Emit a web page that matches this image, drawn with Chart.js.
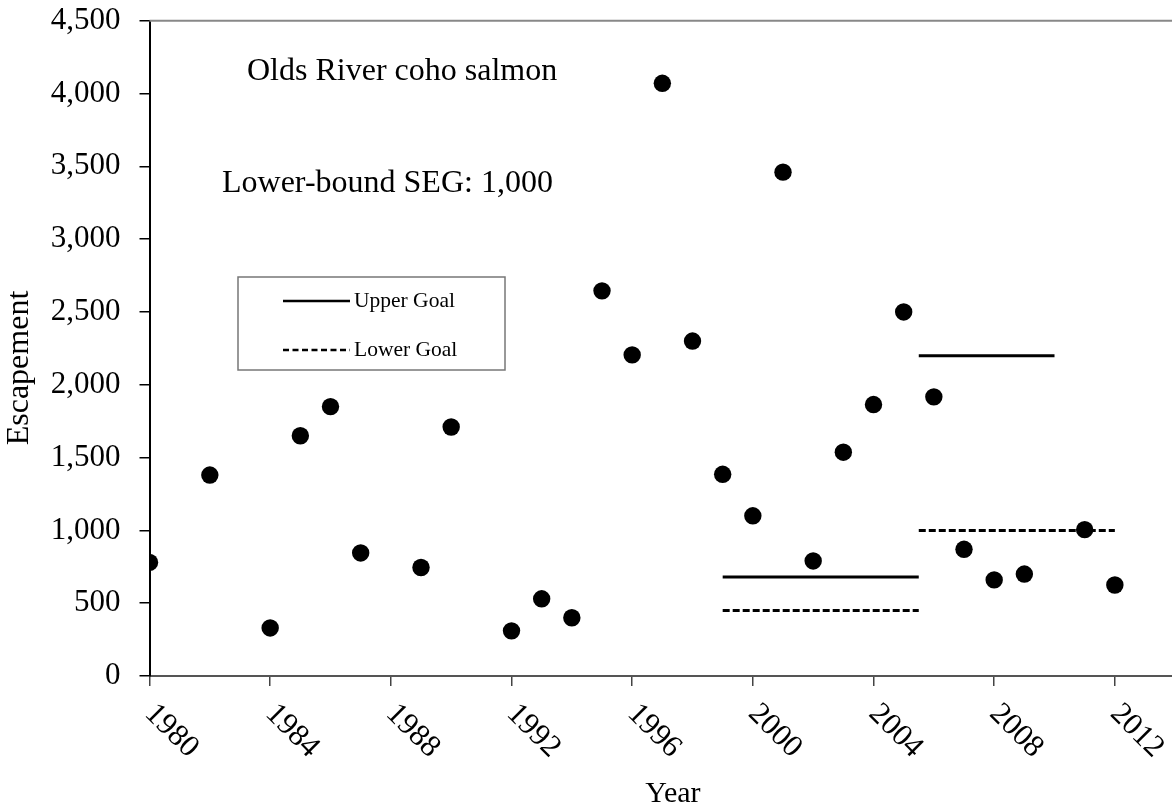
<!DOCTYPE html>
<html>
<head>
<meta charset="utf-8">
<script src="https://cdn.jsdelivr.net/npm/chart.js@4.4.1/dist/chart.umd.min.js"></script>
<style>
    html, body { margin: 0; padding: 0; background: #fff; overflow: hidden; }
    #wrap { width: 1205px; height: 809px; }
</style>
</head>
<body>
<div id="wrap"><canvas id="escChart" width="1205" height="809"></canvas></div>
<script>
// Olds River coho salmon escapement, by year
const years = [1980, 1982, 1984, 1985, 1986, 1987, 1989, 1990, 1992, 1993, 1994, 1995, 1996, 1997,
               1998, 1999, 2000, 2001, 2002, 2003, 2004, 2005, 2006, 2007, 2008, 2009, 2011, 2012];
const escapement = [780, 1380, 330, 1650, 1850, 845, 745, 1710, 310, 530, 400, 2645, 2205, 4070,
                    2300, 1385, 1100, 3460, 790, 1537, 1864, 2500, 1917, 870, 660, 700, 1005, 625];

// goal segments (null breaks the line between periods)
const upperGoalX = [1999, 2005.5, 2005.5, 2005.5, 2010];
const upperGoalY = [680, 680, null, 2200, 2200];
const lowerGoalX = [1999, 2005.5, 2005.5, 2005.5, 2012];
const lowerGoalY = [450, 450, null, 1000, 1000];

const xTicks = [1980, 1984, 1988, 1992, 1996, 2000, 2004, 2008, 2012];
const yTicks = [0, 500, 1000, 1500, 2000, 2500, 3000, 3500, 4000, 4500];

const FONT = '"Liberation Serif", "Times New Roman", serif';

const toPoints = (xs, ys) => xs.map((x, i) => ({ x: x, y: ys[i] }));

// draws rotated year labels, y title, top frame line, legend box and the two notes
const decorPlugin = {
    id: 'decor',
    afterDraw(chart) {
        const { ctx, chartArea, scales: { x } } = chart;
        ctx.save();

        // top frame line
        ctx.strokeStyle = '#888';
        ctx.lineWidth = 2;
        ctx.beginPath();
        ctx.moveTo(chartArea.left, chartArea.top);
        ctx.lineTo(chartArea.right, chartArea.top);
        ctx.stroke();

        // year labels, slanted down to the right
        ctx.fillStyle = '#000';
        ctx.font = `31px ${FONT}`;
        ctx.textAlign = 'left';
        ctx.textBaseline = 'top';
        x.ticks.forEach(t => {
            const px = x.getPixelForValue(t.value);
            ctx.save();
            ctx.translate(px + 11, chartArea.bottom + 22);
            ctx.rotate(Math.PI / 4);
            ctx.fillText(String(t.value), 0, 0);
            ctx.restore();
        });

        // y axis title
        ctx.save();
        ctx.translate(20, 368);
        ctx.rotate(-Math.PI / 2);
        ctx.textAlign = 'center';
        ctx.textBaseline = 'middle';
        ctx.font = `32px ${FONT}`;
        ctx.fillText('Escapement', 0, 0);
        ctx.restore();

        // notes
        ctx.textBaseline = 'alphabetic';
        ctx.font = `32px ${FONT}`;
        ctx.fillText('Olds River coho salmon', 247, 80);
        ctx.fillText('Lower-bound SEG: 1,000', 222, 192);

        // legend
        ctx.strokeStyle = '#777';
        ctx.lineWidth = 1.5;
        ctx.strokeRect(238, 277, 267, 93);
        ctx.strokeStyle = '#000';
        ctx.lineWidth = 2.5;
        ctx.beginPath();
        ctx.moveTo(283, 301);
        ctx.lineTo(350, 301);
        ctx.stroke();
        ctx.setLineDash([6, 3.5]);
        ctx.beginPath();
        ctx.moveTo(283, 350);
        ctx.lineTo(350, 350);
        ctx.stroke();
        ctx.setLineDash([]);
        ctx.font = `21.5px ${FONT}`;
        ctx.fillText('Upper Goal', 354, 307);
        ctx.fillText('Lower Goal', 354, 356);

        ctx.restore();
    }
};

new Chart(document.getElementById('escChart').getContext('2d'), {
    type: 'scatter',
    data: {
        datasets: [
            {
                label: 'Escapement',
                data: toPoints(years, escapement),
                backgroundColor: '#000',
                borderWidth: 0,
                pointRadius: 8.7,
                pointHoverRadius: 8.7
            },
            {
                label: 'Upper Goal',
                type: 'line',
                data: toPoints(upperGoalX, upperGoalY),
                borderColor: '#000',
                borderWidth: 3,
                pointRadius: 0,
                spanGaps: false,
                fill: false
            },
            {
                label: 'Lower Goal',
                type: 'line',
                data: toPoints(lowerGoalX, lowerGoalY),
                borderColor: '#000',
                borderWidth: 3,
                borderDash: [7, 3],
                pointRadius: 0,
                spanGaps: false,
                fill: false
            }
        ]
    },
    options: {
        responsive: false,
        animation: false,
        layout: { padding: { top: 20.7, right: 0, bottom: 0, left: 0 } },
        plugins: {
            legend: { display: false },
            tooltip: { enabled: false }
        },
        scales: {
            x: {
                type: 'linear',
                position: 'bottom',
                min: 1980,
                max: 2014.7,
                afterBuildTicks: axis => { axis.ticks = xTicks.map(v => ({ value: v })); },
                afterFit: axis => { axis.height = 133; axis.paddingLeft = 0; axis.paddingRight = 0; },
                ticks: { display: false },
                grid: { drawOnChartArea: false, drawTicks: true, tickLength: 10, color: '#444', lineWidth: 1.5 },
                border: { display: true, color: '#555', width: 2 },
                title: {
                    display: true,
                    text: 'Year',
                    color: '#000',
                    font: { family: FONT, size: 30, lineHeight: 1 },
                    padding: { top: 0, bottom: 0 }
                }
            },
            y: {
                min: 0,
                max: 4500,
                afterBuildTicks: axis => { axis.ticks = yTicks.map(v => ({ value: v })); },
                afterFit: axis => { axis.width = 149.5; axis.paddingTop = 0; axis.paddingBottom = 0; },
                ticks: {
                    color: '#000',
                    padding: 19,
                    font: { family: FONT, size: 31 },
                    callback: v => v.toLocaleString('en-US')
                },
                grid: { drawOnChartArea: false, drawTicks: true, tickLength: 10, color: '#000', lineWidth: 1.5 },
                border: { display: true, color: '#000', width: 2 }
            }
        }
    },
    plugins: [decorPlugin]
});
</script>
</body>
</html>
